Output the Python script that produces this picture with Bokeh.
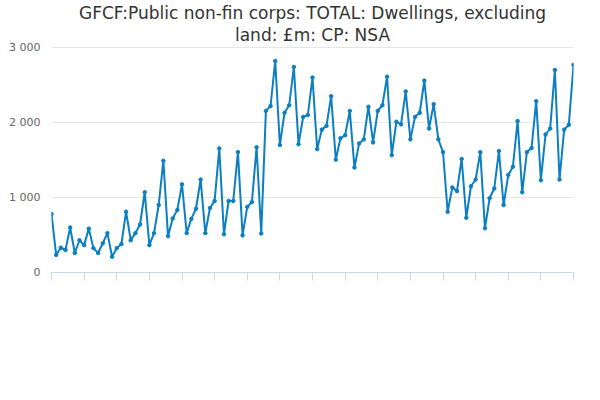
from bokeh.plotting import figure
from bokeh.models import FixedTicker, Legend, LegendItem, Title, Label, CustomJSTickFormatter
from bokeh.embed import file_html
from bokeh.resources import INLINE
import math

years = list(range(1997, 2026))
values = [
    780, 235, 330, 300,
    600, 260, 430, 365,
    585, 325, 260, 390,
    525, 210, 325, 380,
    810, 430, 525, 640,
    1070, 365, 525, 900,
    1490, 485, 720, 835,
    1175, 525, 715, 850,
    1240, 525, 860, 955,
    1655, 510, 955, 955,
    1605, 495, 875, 940,
    1670, 520, 2155, 2220,
    2820, 1700, 2130, 2230,
    2740, 1710, 2075, 2100,
    2600, 1645, 1905, 1955,
    2350, 1505, 1790, 1830,
    2155, 1400, 1720, 1775,
    2210, 1735, 2155, 2230,
    2610, 1565, 2010, 1975,
    2415, 1775, 2075, 2130,
    2560, 1920, 2245, 1775,
    1605, 810, 1135, 1085,
    1515, 730, 1150, 1240,
    1605, 590, 990, 1120,
    1620, 900, 1300, 1410,
    2020, 1070, 1605, 1660,
    2285, 1230, 1840, 1920,
    2700, 1240, 1905, 1970,
    2770,
]
labels = [f"{y} Q{q}" for y in years for q in range(1, 5)][:len(values)]
x = list(range(len(values)))
tick_labels = {i: labels[i] for i in range(0, len(values), 28)}

color = "#0b7fc1"
font = "DejaVu Sans"

p = figure(frame_width=522, frame_height=228, output_backend="svg", toolbar_location=None,
           x_range=(0, len(values) - 1), y_range=(0, 3040),
           min_border_left=51, min_border_right=10, min_border_top=4, min_border_bottom=0)
p.outline_line_color = None

p.add_layout(Title(text="land: £m: CP: NSA", align="center", text_font_size="17px",
                   text_font=font, text_font_style="normal", text_color="#333333",
                   standoff=0, offset=0), "above")
p.add_layout(Title(text="GFCF:Public non-fin corps: TOTAL: Dwellings, excluding", align="center",
                   text_font_size="17px", text_font=font, text_font_style="normal",
                   text_color="#333333", standoff=0), "above")

r = p.line(x, values, line_color=color, line_width=2)
c = p.scatter(x, values, size=3.5, color=color)

p.xaxis.ticker = FixedTicker(ticks=list(range(0, len(values), 7)))
p.xaxis.formatter = CustomJSTickFormatter(args=dict(lab=tick_labels), code="return lab[tick] || '';")
p.xaxis.major_label_orientation = math.pi / 4
p.xaxis.major_label_text_font = font
p.xaxis.major_label_text_font_size = "11px"
p.xaxis.major_label_text_color = "#666666"
p.xaxis.axis_line_color = "#ccd6eb"
p.xaxis.major_tick_line_color = "#ccd6eb"
p.xaxis.major_tick_in = 0
p.xaxis.major_tick_out = 8
p.xaxis.minor_tick_line_color = None
p.xgrid.grid_line_color = None

p.yaxis.ticker = FixedTicker(ticks=[0, 1000, 2000, 3000])
p.yaxis.formatter = CustomJSTickFormatter(code="return tick >= 1000 ? (Math.floor(tick/1000) + ' ' + String(tick % 1000).padStart(3,'0')) : String(tick);")
p.yaxis.axis_line_color = None
p.yaxis.major_tick_line_color = None
p.yaxis.minor_tick_line_color = None
p.yaxis.major_label_text_font = font
p.yaxis.major_label_text_font_size = "11px"
p.yaxis.major_label_text_color = "#666666"
p.ygrid.grid_line_color = "#e6e6e6"

p.add_layout(Label(x=-40, y=3120, x_units="screen", y_units="data", text="£m",
                   text_font=font, text_font_size="11px", text_color="#666666"))

legend = Legend(items=[LegendItem(label="GFCF:Public non-fin corps: TOTAL: Dwellings, excluding land: £m: CP: NSA",
                                  renderers=[r, c])],
                location="center", orientation="horizontal", border_line_color=None,
                label_text_font=font, label_text_font_size="12px", label_text_font_style="bold",
                label_text_color="#333333", glyph_width=16, padding=0, margin=2)
p.add_layout(legend, "below")
p.add_layout(Title(text="Source:", align="right", text_font_size="12px", text_font=font,
                   text_font_style="normal", text_color="#333333", standoff=0), "below")

open("out.html", "w").write(file_html(p, INLINE))
